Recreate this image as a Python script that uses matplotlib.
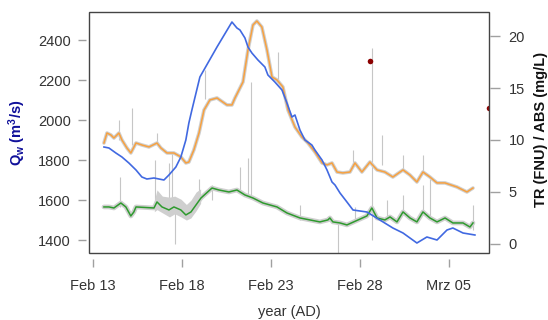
import matplotlib
matplotlib.use("Agg")
import matplotlib.pyplot as plt
from matplotlib.patches import Rectangle

plt.rcParams['font.family'] = ['Liberation Sans', 'DejaVu Sans']
plt.rcParams['mathtext.fontset'] = 'custom'
plt.rcParams['mathtext.rm'] = 'Liberation Sans'
plt.rcParams['mathtext.bf'] = 'Liberation Sans:bold'
plt.rcParams['mathtext.it'] = 'Liberation Sans:italic'

# ---- data (x = days since Feb 13) ----
tick_days = [0, 5, 10, 15, 20]
tick_labels = ["Feb 13", "Feb 18", "Feb 23", "Feb 28", "Mrz 05"]

q_day = [0.62, 0.90, 1.29, 1.63, 2.02, 2.42, 2.75, 3.03, 3.43, 3.71, 3.99, 4.27, 4.66, 4.94,
         5.22, 5.39, 5.56, 6.01, 6.97, 7.81, 8.09, 8.26, 8.54, 8.71, 8.93, 9.27, 9.66, 9.83,
         10.22, 10.62, 10.90, 11.18, 11.35, 11.63, 11.91, 12.30, 12.47, 12.87, 13.15, 13.43,
         13.60, 13.88, 14.27, 14.61, 15.39, 16.12, 16.85, 17.42, 18.20, 18.76, 19.33, 19.89,
         20.22, 20.79, 21.46]
q_val = [1865, 1860, 1835, 1815, 1785, 1750, 1715, 1705, 1710, 1705, 1700, 1725, 1765, 1815,
         1900, 1985, 2050, 2215, 2365, 2490, 2460, 2450, 2410, 2365, 2335, 2300, 2265, 2225,
         2190, 2150, 2085, 2015, 2025, 1950, 1900, 1875, 1850, 1800, 1750, 1690,
         1675, 1635, 1590, 1550, 1540, 1500, 1460, 1435, 1385, 1415, 1400, 1450,
         1460, 1435, 1425]

tr_day = [0.62, 0.79, 1.01, 1.18, 1.46, 1.63, 1.91, 2.13, 2.42, 2.75, 3.15, 3.60, 3.82, 4.16,
          4.55, 4.94, 5.22, 5.39, 5.67, 5.96, 6.24, 6.57, 6.97, 7.53, 7.81, 7.98, 8.43, 8.71,
          8.99, 9.21, 9.49, 9.78, 10.06, 10.34, 10.67, 10.96, 11.35, 11.74, 12.08, 12.47,
          12.87, 13.15, 13.43, 13.71, 14.04, 14.44, 14.72, 15.11, 15.56, 15.96, 16.40, 16.85,
          17.42, 17.81, 18.20, 18.54, 18.93, 19.33, 19.78, 20.45, 21.01, 21.35]
tr_val = [9.71, 10.67, 10.48, 10.19, 10.67, 10.00, 9.23, 8.75, 9.71, 9.52, 9.33, 9.71, 9.23, 8.75,
          8.75, 8.37, 7.79, 7.88, 9.04, 10.67, 12.88, 13.85, 14.04, 13.37, 13.37, 14.04, 15.58, 18.65,
          21.06, 21.44, 20.87, 18.65, 16.06, 15.77, 15.10, 12.88, 11.25, 10.29, 9.71, 8.85,
          7.79, 7.60, 7.79, 6.92, 6.83, 6.92, 7.79, 6.92, 7.88, 7.12, 6.92, 6.44,
          7.12, 6.63, 5.96, 6.92, 6.44, 5.87, 5.87, 5.48, 5.00, 5.38]

abs_day = [0.62, 0.90, 1.18, 1.57, 1.85, 2.13, 2.30, 2.42, 3.43, 3.60, 3.88, 4.27, 4.55, 4.94,
           5.22, 5.51, 5.79, 6.07, 6.69, 7.08, 7.64, 8.09, 8.54, 8.99, 9.55, 10.34, 10.90,
           11.63, 12.19, 12.75, 13.20, 13.31, 13.48, 13.88, 14.27, 15.39, 15.67, 15.96, 16.40,
           16.69, 17.08, 17.42, 17.81, 18.20, 18.54, 18.93, 19.33, 19.78, 20.22, 20.79, 21.18, 21.35]
abs_val = [3.56, 3.56, 3.46, 3.94, 3.56, 2.69, 3.08, 3.56, 3.46, 4.04, 3.56, 3.27, 3.56, 3.27,
           2.79, 3.08, 3.75, 4.42, 5.38, 5.19, 5.00, 5.19, 4.71, 4.42, 3.94, 3.56, 2.98,
           2.50, 2.31, 2.12, 2.31, 2.50, 2.12, 2.02, 1.83, 2.69, 3.46, 2.50, 2.31,
           2.60, 2.12, 3.08, 2.50, 2.12, 3.08, 2.50, 2.12, 2.50, 2.02, 2.02, 1.63, 2.02]

# noisy raw-ABS envelope (gray band) in the Feb 16-19 stretch
band_day = [3.45, 3.60, 3.90, 4.30, 4.60, 4.95, 5.25, 5.50, 5.80, 6.05]
band_lo = [3.1, 3.3, 3.0, 2.6, 2.9, 2.6, 2.3, 2.5, 3.2, 3.9]
band_hi = [4.2, 5.2, 4.6, 4.5, 4.6, 4.3, 3.8, 4.2, 5.0, 5.3]

# raw-signal spikes: day, low, high (FNU or mg/L)
spike_day = [1.46, 2.19, 3.60, 6.29, 10.39, 14.60, 15.67, 16.24, 17.42, 18.54,
             1.52, 3.48, 4.44, 4.61, 4.27, 5.96, 6.69, 8.26, 8.71, 8.88, 13.76,
             16.50, 18.54, 18.93, 21.35, 17.42, 11.63, 14.72]
spike_lo = [10.0, 9.5, 9.5, 13.9, 15.8, 7.8, 0.4, 7.6, 7.1, 6.9,
            3.6, 3.5, 3.6, 0.0, 3.3, 4.0, 4.2, 5.2, 4.7, 4.4, -0.9,
            2.3, 2.8, 2.3, 1.35, 2.8, 2.3, 2.1]
spike_hi = [11.9, 13.1, 10.7, 16.7, 18.5, 9.0, 18.8, 10.5, 8.6, 8.6,
            6.4, 8.1, 8.8, 3.5, 7.8, 6.2, 5.7, 7.4, 8.3, 15.6, 2.0,
            4.2, 5.7, 6.2, 3.75, 4.7, 3.75, 3.6]

red_day = [15.56, 22.25]
red_val = [17.6, 13.1]

# ---- figure ----
fig = plt.figure(figsize=(5.48, 3.2), dpi=100)
ax = fig.add_axes([89 / 548, 67 / 320, 400 / 548, 241 / 320])
ax2 = ax.twinx()

ax.set_zorder(2)
ax.patch.set_visible(False)

gray = '#cfcfcf'
ax2.vlines(spike_day, spike_lo, spike_hi, color='#c6c6c6', lw=0.8, zorder=1)
ax2.fill_between(band_day, band_lo, band_hi, color=gray, lw=0, zorder=1)
ax2.plot(tr_day, tr_val, color=gray, lw=2.6, solid_capstyle='round', zorder=1)
ax2.plot(abs_day, abs_val, color=gray, lw=3.4, solid_capstyle='round', zorder=1)
ax2.plot(tr_day, tr_val, color='#f7a140', lw=1.1, zorder=2)
ax2.plot(abs_day, abs_val, color='#2e9a2e', lw=1.1, zorder=2)
ax2.plot(red_day, red_val, 'o', color='#8b0000', ms=4, mec='none', zorder=3)

ax.plot(q_day, q_val, color='#4169e1', lw=1.2, zorder=3)

ax.set_xlim(-0.22, 22.25)
ax.set_ylim(1335, 2540)
ax2.set_ylim(-0.87, 22.31)

ax.set_xticks(tick_days)
ax.set_xticklabels(tick_labels)
ax.set_yticks([1400, 1600, 1800, 2000, 2200, 2400])
ax2.set_yticks([0, 5, 10, 15, 20])

for a in (ax, ax2):
    for s in a.spines.values():
        s.set_visible(False)
ax.tick_params(axis='both', direction='out', length=6, width=1, color='#a0a0a0',
               labelcolor='#333333', labelsize=10.5)
ax.tick_params(axis='x', pad=9)
ax.tick_params(axis='y', pad=5)
ax2.tick_params(axis='y', direction='out', length=7, width=1, color='#a0a0a0',
                labelcolor='#333333', labelsize=10.5, pad=6)
ax.spines['bottom'].set_position(('outward', 4))
ax.spines['left'].set_position(('outward', 2))
ax2.spines['right'].set_position(('outward', 1))

ax.add_patch(Rectangle((0, 0), 1, 1, transform=ax.transAxes, fill=False,
                       ec='#444444', lw=1.0, clip_on=False, zorder=10))

fig.text(17 / 548, 0.586, r'Q$_\mathbf{w}$ (m$^\mathbf{3}$/s)', rotation=90,
         ha='center', va='center', color='#10109a', fontsize=10.5, fontweight='bold')
fig.text(541 / 548, 0.594, 'TR (FNU) / ABS (mg/L)', rotation=90,
         ha='center', va='center', color='#111111', fontsize=10.5, fontweight='bold')
fig.text(289 / 548, 1 / 320, 'year (AD)', ha='center', va='bottom',
         color='#333333', fontsize=10.5)

fig.savefig('out.png', dpi=100)
